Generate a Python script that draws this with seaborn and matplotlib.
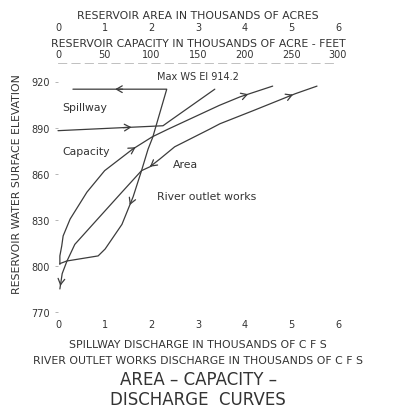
import matplotlib
matplotlib.use("Agg")
import matplotlib.pyplot as plt
import pandas as pd
import seaborn as sns

# elevations in feet
capacity_elev = [801, 806.5, 813, 819.5, 830.5, 848, 862, 876, 884, 889, 904.5, 910, 917]
capacity_kaf = [2, 2, 4, 5.5, 13, 31, 50, 80, 101, 118, 173, 195, 230]

area_elev = [785, 795, 803, 814, 828.5, 848, 862, 864.5, 869.5, 877.5, 889, 892.5, 901, 912, 917]
area_kac = [0.04, 0.09, 0.19, 0.36, 0.79, 1.37, 1.79, 1.97, 2.18, 2.5, 3.25, 3.47, 4.18, 5.08, 5.55]

outlet_elev = [915, 915, 883.7, 876, 862, 845, 827, 811, 806.5, 803.2, 801.5]
outlet_kcfs = [0.32, 2.33, 2.03, 1.93, 1.79, 1.61, 1.37, 1.01, 0.86, 0.19, 0.04]

spillway_elev = [888, 891.2, 893.6, 915]
spillway_kcfs = [0.0, 2.25, 2.36, 3.36]

elev_ticks = [770, 800, 830, 860, 890, 920]
discharge_ticks = [0, 1, 2, 3, 4, 5, 6]
area_ticks = [0, 1, 2, 3, 4, 5, 6]
capacity_ticks = [0, 50, 100, 150, 200, 250, 300]

ACRE_FT_PER_ACRE_UNIT = 50  # capacity scale: 50 kaf per area unit

LINE = "#3c3c3c"
TEXT = "#333333"

sns.set_theme(style="white")
plt.rcParams["font.family"] = ["DejaVu Sans"]
plt.rcParams["text.color"] = TEXT
plt.rcParams["axes.labelcolor"] = TEXT
plt.rcParams["xtick.color"] = TEXT
plt.rcParams["ytick.color"] = TEXT


def arrow_on(ax, xs, ys, i, t=0.5, back=False):
    x0, y0, x1, y1 = xs[i], ys[i], xs[i + 1], ys[i + 1]
    tip = (x0 + (x1 - x0) * t, y0 + (y1 - y0) * t)
    s = t + 0.08 if back else t - 0.08
    tail = (x0 + (x1 - x0) * s, y0 + (y1 - y0) * s)
    ax.annotate(
        "", xy=tip, xytext=tail,
        arrowprops=dict(arrowstyle="->,head_length=0.35,head_width=0.2",
                        color=LINE, lw=0.9, shrinkA=0, shrinkB=0),
        annotation_clip=False,
    )


curves = pd.concat([
    pd.DataFrame({"x": [c / ACRE_FT_PER_ACRE_UNIT for c in capacity_kaf],
                  "elev": capacity_elev, "curve": "capacity"}),
    pd.DataFrame({"x": area_kac, "elev": area_elev, "curve": "area"}),
    pd.DataFrame({"x": outlet_kcfs, "elev": outlet_elev, "curve": "outlet"}),
    pd.DataFrame({"x": spillway_kcfs, "elev": spillway_elev, "curve": "spillway"}),
])

fig = plt.figure(figsize=(3.94, 4.14), dpi=100)
ax = fig.add_axes([58 / 394, 1 - 313 / 414, 280 / 394, 230.5 / 414])

for name, grp in curves.groupby("curve", sort=False):
    sns.lineplot(data=grp, x="x", y="elev", sort=False, estimator=None,
                 color=LINE, lw=0.9, ax=ax, clip_on=False)

cap_x = [c / ACRE_FT_PER_ACRE_UNIT for c in capacity_kaf]
arrow_on(ax, cap_x, capacity_elev, 7, t=0.15)
arrow_on(ax, cap_x, capacity_elev, 11, t=0.25)
arrow_on(ax, area_kac, area_elev, 7, t=0.0, back=True)
arrow_on(ax, area_kac, area_elev, 12, t=0.95)
arrow_on(ax, area_kac, area_elev, 0, t=0.2, back=True)
arrow_on(ax, outlet_kcfs, outlet_elev, 0, t=0.45, back=True)
arrow_on(ax, outlet_kcfs, outlet_elev, 5, t=0.3)
arrow_on(ax, spillway_kcfs, spillway_elev, 0, t=0.7)

ax.set_xlim(0, 6)
ax.set_ylim(770, 920)
for sp in ax.spines.values():
    sp.set_visible(False)

ax.set_yticks(elev_ticks)
ax.set_xticks(discharge_ticks)
ax.tick_params(axis="y", labelsize=7, length=2, width=0.6, color="#aaaaaa", pad=4, left=True)
ax.tick_params(axis="x", labelsize=7, length=0, pad=5)
ax.set_xlabel("SPILLWAY DISCHARGE IN THOUSANDS OF C F S\n"
              "RIVER OUTLET WORKS DISCHARGE IN THOUSANDS OF C F S",
              fontsize=7.8, linespacing=1.75, labelpad=7)
ax.set_ylabel("RESERVOIR WATER SURFACE ELEVATION", fontsize=7.8)
ax.yaxis.set_label_coords(-0.13, 0.56)

cap_ax = ax.secondary_xaxis(1.08, functions=(lambda x: x * ACRE_FT_PER_ACRE_UNIT,
                                             lambda c: c / ACRE_FT_PER_ACRE_UNIT))
cap_ax.set_xticks(capacity_ticks)
cap_ax.tick_params(labelsize=7, length=0, pad=3)
cap_ax.spines["top"].set_color("#b5b5b5")
cap_ax.spines["top"].set_linewidth(0.6)
cap_ax.spines["top"].set_linestyle((0, (10, 6)))
cap_ax.set_xlabel("RESERVOIR CAPACITY IN THOUSANDS OF ACRE - FEET", fontsize=7.8, labelpad=2)

area_ax = ax.secondary_xaxis(1.195)
area_ax.set_xticks(area_ticks)
area_ax.tick_params(labelsize=7, length=0, pad=3)
area_ax.spines["top"].set_visible(False)
area_ax.set_xlabel("RESERVOIR AREA IN THOUSANDS OF ACRES", fontsize=7.8, labelpad=3)

lab = dict(fontsize=7.8, color=TEXT, va="center")
ax.text(0.09, 903.4, "Spillway", ha="left", **lab)
ax.text(0.09, 874.8, "Capacity", ha="left", **lab)
ax.text(2.46, 866.3, "Area", ha="left", **lab)
ax.text(2.12, 845.5, "River outlet works", ha="left", **lab)
ax.text(3.0, 923.6, "Max WS El 914.2", ha="center", fontsize=7, color=TEXT, va="center")

fig.text(0.503, 1 - 390 / 414, "AREA \u2013 CAPACITY \u2013\nDISCHARGE  CURVES",
         ha="center", va="center", fontsize=12, linespacing=1.1)

fig.savefig("out.png", dpi=100, facecolor="white")
